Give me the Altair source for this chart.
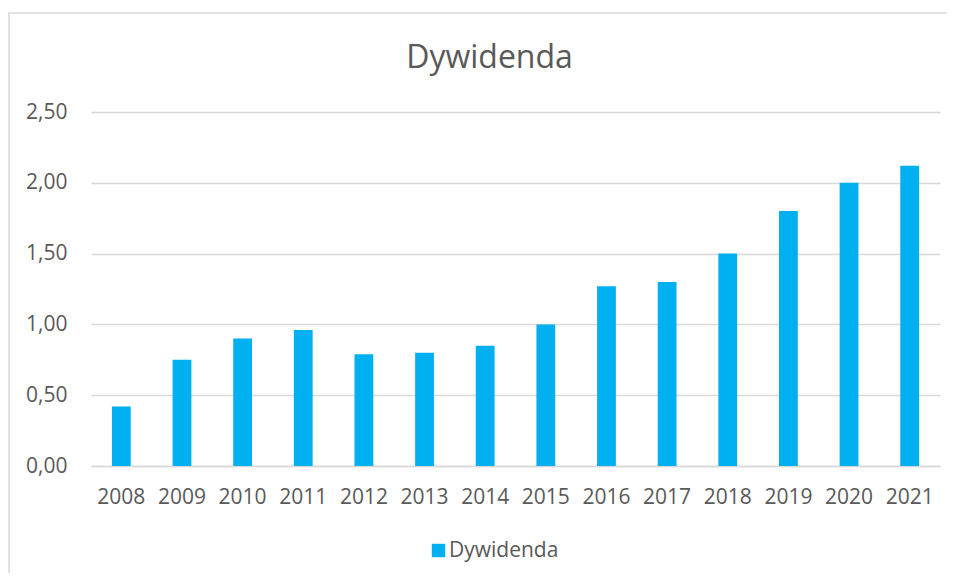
import altair as alt
import pandas as pd

years = ["2008", "2009", "2010", "2011", "2012", "2013", "2014",
         "2015", "2016", "2017", "2018", "2019", "2020", "2021"]
values = [0.42, 0.75, 0.90, 0.96, 0.79, 0.80, 0.85,
          1.00, 1.27, 1.30, 1.50, 1.80, 2.00, 2.12]
series_name = "Dywidenda"
y_ticks = [0, 0.5, 1.0, 1.5, 2.0, 2.5]

df = pd.DataFrame({"Rok": years, "Wartość": values, "Seria": [series_name] * len(years)})

FONT = "Open Sans"
TXT = "#595959"
GRID = "#D9D9D9"
W, H = 849, 354

bars = alt.Chart(df).mark_bar(color="#00B0F0").encode(
    x=alt.X("Rok:N", sort=years,
            scale=alt.Scale(paddingInner=0.69, paddingOuter=0.345),
            axis=alt.Axis(title=None, labelAngle=0, labelFont=FONT, labelFontSize=21,
                          labelColor=TXT, ticks=False, tickSize=0, labelPadding=20,
                          domainColor=GRID, domainWidth=1.3, grid=False)),
    y=alt.Y("Wartość:Q", scale=alt.Scale(domain=[0, 2.5], nice=False),
            axis=alt.Axis(title=None, values=y_ticks, labelFont=FONT, labelFontSize=21,
                          labelColor=TXT, ticks=False, tickSize=0, labelPadding=24,
                          domain=False, grid=True, gridColor=GRID, gridWidth=1.3,
                          labelExpr="replace(format(datum.value, '.2f'), '.', ',')")),
    color=alt.Color("Seria:N", scale=alt.Scale(domain=[series_name], range=["#00B0F0"]),
                    legend=alt.Legend(title=None, orient="none", legendX=337, legendY=428,
                                      direction="horizontal", symbolType="square",
                                      symbolSize=180, symbolStrokeWidth=0, padding=0,
                                      labelFont=FONT, labelFontSize=21, labelColor=TXT,
                                      labelOffset=0)),
)

frame = alt.Chart(df).transform_filter("datum.Rok == '2008'").mark_rect(
    fill=None, stroke=GRID, strokeWidth=1.5).encode(
    x=alt.value(-82), x2=alt.value(W + 60), y=alt.value(-99), y2=alt.value(H + 160))

chart = alt.layer(frame, bars).properties(
    width=W, height=H,
    autosize=alt.AutoSizeParams(type="none"),
    padding={"left": 83, "top": 104, "right": 7, "bottom": 107},
    title=alt.TitleParams("Dywidenda", font=FONT, fontSize=32, fontWeight="normal",
                          color=TXT, anchor="middle", dx=-26, offset=-88,
                          baseline="alphabetic"),
    background="white",
).configure_view(stroke=None)

chart.save("out.html", embed_options={"renderer": "svg", "actions": False})
